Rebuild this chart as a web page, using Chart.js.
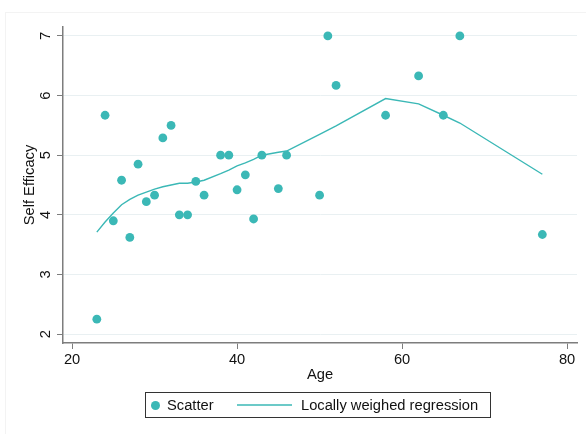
<!DOCTYPE html>
<html>
<head>
<meta charset="utf-8">
<title>Self Efficacy by Age</title>
<script src="https://cdn.jsdelivr.net/npm/chart.js@4/dist/chart.umd.min.js"></script>
<style>
    html, body { margin: 0; padding: 0; background: #fff; overflow: hidden; }
    #wrap { position: relative; width: 586px; height: 434px; font-family: "Liberation Sans", Arial, sans-serif; }
    #frame { position: absolute; left: 5px; top: 12px; width: 620px; height: 460px; border: 1px solid #f3f3f3; }
    #chart { position: absolute; left: 0; top: 0; }
    #legend { position: absolute; left: 145px; top: 392px; width: 346px; height: 26px; border: 1px solid #333; box-sizing: border-box; font-size: 14.7px; color: #111; }
    #legend .dot { position: absolute; left: 5px; top: 8px; width: 9px; height: 9px; border-radius: 50%; background: #3bb8b6; }
    #legend .seg { position: absolute; left: 91px; top: 11px; width: 55px; height: 2px; background: #6ccac8; }
    #legend .txt { position: absolute; top: 4px; line-height: 17px; }
</style>
</head>
<body>
<div id="wrap">
    <div id="frame"></div>
    <canvas id="chart" width="586" height="434"></canvas>
    <div id="legend">
        <span class="dot"></span><span class="txt" style="left:21px">Scatter</span>
        <span class="seg"></span><span class="txt" style="left:155px">Locally weighed regression</span>
    </div>
</div>
<script>
// Observed ages and self efficacy scores
const ages = [23, 24, 25, 26, 27, 28, 29, 30, 31, 32, 33, 34, 35, 36, 38, 39, 40, 41, 42, 43, 45, 46, 50, 51, 52, 58, 62, 65, 67, 77];
const efficacy = [2.25, 5.67, 3.9, 4.58, 3.62, 4.85, 4.22, 4.33, 5.29, 5.5, 4.0, 4.0, 4.56, 4.33, 5.0, 5.0, 4.42, 4.67, 3.93, 5.0, 4.44, 5.0, 4.33, 7.0, 6.17, 5.67, 6.33, 5.67, 7.0, 3.67];
// Lowess fit at each age
const lowess = [3.71, 3.88, 4.03, 4.17, 4.26, 4.33, 4.38, 4.43, 4.47, 4.5, 4.53, 4.53, 4.55, 4.58, 4.69, 4.75, 4.82, 4.87, 4.93, 5.0, 5.05, 5.07, 5.35, 5.42, 5.49, 5.95, 5.86, 5.67, 5.54, 4.68];
// Axis ticks
const xTicks = [20, 40, 60, 80];
const yTicks = [2, 3, 4, 5, 6, 7];

const teal = '#3bb8b6';
const axisGray = '#7d7d7d';
const fontFamily = '"Liberation Sans", Arial, sans-serif';
const fontSize = 14.7;

const scatterPoints = ages.map((a, i) => ({ x: a, y: efficacy[i] }));
const fitPoints = ages.map((a, i) => ({ x: a, y: lowess[i] }));

new Chart(document.getElementById('chart'), {
    type: 'scatter',
    data: {
        datasets: [
            {
                label: 'Scatter',
                data: scatterPoints,
                backgroundColor: teal,
                borderWidth: 0,
                pointRadius: 4.4
            },
            {
                type: 'line',
                label: 'Locally weighed regression',
                data: fitPoints,
                borderColor: teal,
                borderWidth: 1.4,
                pointRadius: 0,
                fill: false,
                tension: 0
            }
        ]
    },
    options: {
        responsive: false,
        animation: false,
        layout: { padding: { top: 27, right: 9, left: 0, bottom: 43 } },
        plugins: {
            legend: { display: false },
            tooltip: { enabled: false }
        },
        scales: {
            x: {
                type: 'linear',
                min: 18.9,
                max: 81.2,
                afterFit: scale => { scale.height = 48; },
                afterBuildTicks: scale => { scale.ticks = xTicks.map(v => ({ value: v })); },
                border: { color: axisGray, width: 1.5 },
                grid: { drawOnChartArea: false, drawTicks: true, tickLength: 6, color: axisGray, lineWidth: 1 },
                ticks: { padding: 2, color: '#111', font: { family: fontFamily, size: fontSize }, maxRotation: 0 },
                title: { display: true, text: 'Age', color: '#111', font: { family: fontFamily, size: fontSize }, padding: { top: 0, bottom: 7 } }
            },
            y: {
                type: 'linear',
                min: 1.85,
                max: 7.15,
                afterFit: scale => { scale.width = 63; },
                afterBuildTicks: scale => { scale.ticks = yTicks.map(v => ({ value: v })); },
                border: { color: axisGray, width: 1.5 },
                grid: { color: '#e9f0f2', lineWidth: 1, drawTicks: true, tickLength: 6, tickColor: axisGray },
                ticks: { padding: 7, crossAlign: 'center', minRotation: 90, maxRotation: 90, color: '#111', font: { family: fontFamily, size: fontSize } },
                title: { display: true, text: 'Self Efficacy', color: '#111', font: { family: fontFamily, size: fontSize }, padding: { top: 21, bottom: 0 } }
            }
        }
    }
});
</script>
</body>
</html>
